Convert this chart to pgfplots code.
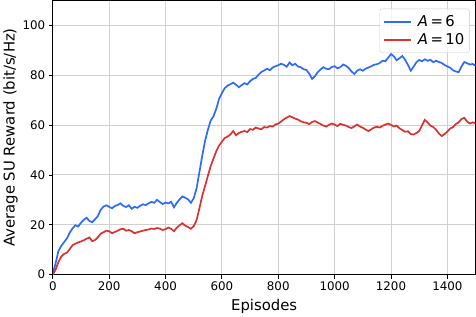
\documentclass[border=0pt]{standalone}
\usepackage{pgfplots}
\pgfplotsset{compat=1.18}
\usepackage{fontspec}
\setmainfont{DejaVu Sans}
\definecolor{myblue}{RGB}{45,108,250}
\definecolor{myred}{RGB}{218,50,48}
\definecolor{gridgray}{RGB}{208,208,208}
\begin{document}
\begin{tikzpicture}
\begin{axis}[
  scale only axis,
  width=421pt, height=273pt,
  xmin=0, xmax=1500, ymin=0, ymax=110,
  xtick={0,200,...,1400}, ytick={0,20,...,100},
  tick pos=left, tick align=outside,
  major tick length=4pt,
  every tick/.style={black, line width=0.8pt},
  grid=major,
  major grid style={gridgray, line width=0.9pt},
  axis line style={black, line width=0.9pt},
  /pgf/number format/assume math mode=true,
  /pgf/number format/1000 sep={},
  tick label style={font=\fontsize{11.8}{14}\selectfont},
  label style={font=\fontsize{14.8}{17}\selectfont},
  xlabel={Episodes},
  ylabel={Average SU Reward (bit/s/Hz)},
  xlabel style={yshift=-1pt},
  ylabel style={yshift=-2pt},
  legend style={at={(0.986,0.97)}, anchor=north east, draw=gray!40, rounded corners=2.5pt,
    fill=white, fill opacity=0.8, text opacity=1, draw opacity=1, font=\fontsize{14.8}{17}\selectfont,
    inner xsep=3pt, inner ysep=4.5pt, row sep=1.5pt,
    /tikz/every odd column/.append style={column sep=4pt}},
  legend cell align=left,
  legend image code/.code={\draw[#1, line width=2pt] (0pt,0pt) -- (27pt,0pt);},
]
\addplot[myblue, line width=1.7pt] coordinates {
(0,0.5)(10,4.5)(20,9.5)(30,11.5)(40,13)(50,14.5)(60,16.8)(70,18.5)(80,19.8)(90,19.3)
(100,20.8)(110,22)(120,22.8)(130,21.5)(140,21)(150,22.2)(160,23.5)(170,26)(180,27.3)(190,27.8)
(200,27.2)(210,26.6)(220,27.5)(230,27.9)(240,28.6)(250,27.6)(260,27.1)(270,27.8)(280,26.4)(290,27.2)
(300,26.8)(310,27.6)(320,28.2)(330,27.9)(340,28.6)(350,29.2)(360,28.8)(370,30)(380,29.1)(390,28.3)
(400,28.9)(410,28.6)(420,29.2)(430,27)(440,28.8)(450,30.2)(460,31.4)(470,30.8)(480,30.2)(490,28.8)
(500,30.6)(510,34.5)(520,41)(530,47.5)(540,53.5)(550,58)(560,61.8)(570,63.5)(580,66.5)(590,70.5)
(600,72.8)(610,74.8)(620,75.8)(630,76.4)(640,77)(650,76.2)(660,75.2)(670,76)(680,76.8)(690,76.3)
(700,77.6)(710,78.5)(720,78.9)(730,80.2)(740,81.3)(750,81.9)(760,82.6)(770,82)(780,83.1)(790,83.6)
(800,84)(810,84.6)(820,84.2)(830,83.4)(840,85.1)(850,84)(860,84.6)(870,83.5)(880,83.2)(890,82.4)
(900,82.1)(910,80.6)(920,78.5)(930,79.6)(940,81.2)(950,82.3)(960,83.2)(970,82.6)(980,82.4)(990,83.3)
(1000,83.6)(1010,82.8)(1020,83.2)(1030,84.3)(1040,83.8)(1050,82.9)(1060,81.5)(1070,80.5)(1080,81.8)(1090,82.4)
(1100,81.8)(1110,82.6)(1120,83.1)(1130,83.6)(1140,84.2)(1150,84.4)(1160,84.9)(1170,85.8)(1180,85.6)(1190,87)
(1200,88.5)(1210,87.6)(1220,86)(1230,86.8)(1240,87.7)(1250,86.2)(1260,84.2)(1270,81.8)(1280,83.4)(1290,85.2)
(1300,86.1)(1310,85.6)(1320,86.4)(1330,85.8)(1340,86.2)(1350,85.2)(1360,85.8)(1370,85.3)(1380,84.9)(1390,84.1)
(1400,83.5)(1410,83)(1420,82)(1430,81.5)(1440,81.2)(1450,83.5)(1460,85.3)(1470,84.8)(1480,84.3)(1490,84.5)
(1500,83.8)
};
\addlegendentry{\textit{A}\,=\,6}
\addplot[myred, line width=1.7pt] coordinates {
(0,0)(10,2)(20,5)(30,7.2)(40,8.3)(50,8.8)(60,10.2)(70,11.8)(80,12.4)(90,12.9)
(100,13.3)(110,13.8)(120,14.4)(130,14.9)(140,13.4)(150,13.9)(160,15)(170,16.4)(180,17)(190,17.6)
(200,17.4)(210,16.6)(220,17.1)(230,17.6)(240,18.2)(250,18.4)(260,17.6)(270,17.9)(280,17.4)(290,16.6)
(300,17)(310,17.3)(320,17.6)(330,17.9)(340,18.1)(350,18.5)(360,18.3)(370,18.7)(380,18.4)(390,17.9)
(400,18.2)(410,18.9)(420,18.4)(430,17.4)(440,18.8)(450,19.8)(460,20.6)(470,19.6)(480,19.1)(490,18.4)
(500,19.4)(510,21.8)(520,26.5)(530,31.5)(540,35.5)(550,39.5)(560,43.5)(570,46.5)(580,49.5)(590,51.8)
(600,53.3)(610,54.8)(620,55.4)(630,56.2)(640,57.6)(650,55.9)(660,56.8)(670,57.3)(680,57.6)(690,57.2)
(700,58.4)(710,58.1)(720,59)(730,58.6)(740,58.3)(750,59.2)(760,59)(770,59.6)(780,59.4)(790,60.2)
(800,60.6)(810,61.4)(820,62.3)(830,63)(840,63.6)(850,63.1)(860,62.6)(870,62.2)(880,61.5)(890,61.1)
(900,60.9)(910,60.4)(920,61.2)(930,61.6)(940,61)(950,60.4)(960,59.8)(970,59.4)(980,60.1)(990,60.6)
(1000,60.2)(1010,59.6)(1020,60.5)(1030,60.1)(1040,59.8)(1050,59.2)(1060,58.8)(1070,59.5)(1080,60.2)(1090,59.4)
(1100,58.9)(1110,58.2)(1120,57.6)(1130,58.3)(1140,59)(1150,59.3)(1160,59)(1170,59.7)(1180,60.2)(1190,60.6)
(1200,60.1)(1210,59.4)(1220,59.8)(1230,58.7)(1240,58)(1250,57.3)(1260,57.5)(1270,56.4)(1280,56.2)(1290,56.8)
(1300,57.6)(1310,59.8)(1320,62.1)(1330,61)(1340,59.8)(1350,59.2)(1360,58.1)(1370,56.6)(1380,55.6)(1390,56.4)
(1400,57.4)(1410,58.6)(1420,59.2)(1430,60.4)(1440,61.1)(1450,62.4)(1460,62.9)(1470,61.4)(1480,60.6)(1490,61.1)
(1500,60.6)
};
\addlegendentry{\textit{A}\,=\,10}
\end{axis}
\end{tikzpicture}
\end{document}
